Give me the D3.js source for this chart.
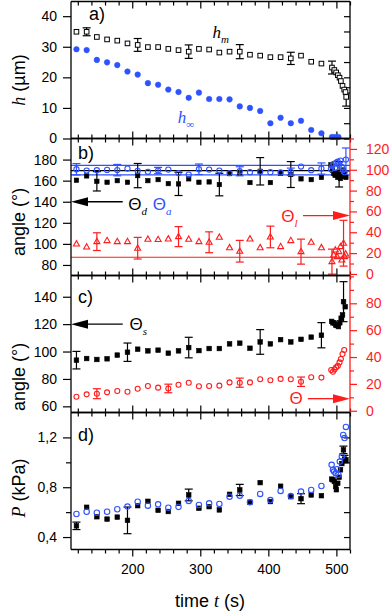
<!DOCTYPE html>
<html>
<head>
<meta charset="utf-8">
<script src="https://cdn.jsdelivr.net/npm/d3@7"></script>
<style>
body { margin: 0; background: #fff; }
svg { display: block; font-family: "Liberation Sans", Arial, sans-serif; }
</style>
</head>
<body>
<svg id="chart" width="392" height="613"></svg>
<script>
// ---- data: [time s, value, error] ----
const hmData = [[118,34.9],[133,34.9,1.3],[148,33.2],[163,32.4],[178,32.0],[193,31.1],[208,30.6,2.1],[223,29.9],[238,29.9],[253,29.3],[268,28.9],[283,28.4,2.2],[298,29.3],[313,29.1],[328,28.1],[343,28.4],[358,28.4,2.3],[373,27.4],[388,27.1],[403,26.6],[418,26.6],[433,26.2,2],[448,27.1],[463,25.1],[478,24.5],
  [493.5,23.2,2.1],[497,22.4],[499.7,21.6],[502.2,20.7],[504.6,19.9],[506.6,18.8],[509,17.2],[511.5,16.0],[513.4,15.2],[514.4,13.6,3]];
const hInfData = [[118,29.2],[133,28.9],[148,25.7],[163,24.9],[178,24.0],[193,21.9],[208,20.9],[223,18.1],[238,17.6],[253,16.0],[268,15.2],[283,13.3],[298,15.0],[313,12.9],[328,12.9],[343,12.8],[358,10.5],[373,10.0],[388,9.0],[403,5.0],[418,6.8],[433,5.0],[448,5.8],[463,2.8],[478,1.7],[493.5,0.5],[498,0.5],[503,0.5]];

const thetaD = [[118,160.4],[133,164.5],[148,159.4,9.2],[163,158.5],[178,160],[193,158.5],[208,164.8,11.5],[223,160],[238,161],[253,157.2],[268,156.9,11],[283,161.7],[298,158.5],[313,158.8],[328,156.3,10.7],[343,166.7],[358,167],[373,158.2],[388,168.9,13],[403,158.2],[418,167],[433,165.8,12.3],[448,161.7],[463,161],[478,163],
  [492,175],[494,170],[496,167],[498,165],[500,168],[502,163],[504,166,12],[506,162],[508,164],[510,170],[512,167],[514,163]];
const thetaA = [[118,170.8,5.4],[133,169.6],[148,169.9],[163,170.2],[178,170,5.4],[193,171.5],[208,169.3],[223,168.4],[238,169.6,3],[253,170.5],[268,167.2],[283,165.8],[298,170.8,5],[313,170.5],[328,169.6],[343,167.2],[358,168.9,4.3],[373,168],[388,168.4],[403,168],[418,167.8],[433,168.4,3.5],[448,173.4],[463,169.9],[478,171.5,5.3],
  [492,171],[494,174],[496,176],[498,172],[500,177],[502,178],[504,175],[506,179],[508,173],[510,170],[512,168],[514,180,11]];
const thetaL = [[118,28.8],[133,25.9],[148,31,8.5],[163,32],[178,31],[193,31],[208,24.7,10.4],[223,33.3],[238,33],[253,33.6],[268,35.8,9.6],[283,33.3],[298,31],[313,30.4,10],[328,35.2],[343,25.2],[358,21.8,10.4],[373,33.6],[388,25.2],[403,35.5,10.4],[418,26.2],[433,32],[448,21.4,12],[463,30.4],[478,25.2],
  [493.5,11.8,12],[496,18.2],[498.5,23],[501,16.6],[503.5,21.4],[506,26.2],[508,13.4],[510.5,29.5,22],[512,16.6],[513.5,19.2]];
const thetaBLines = [165.5, 174.5];   // blue reference lines, left axis
const thetaDLine = [169.5];           // black reference line, left axis
const thetaLLine = [16];              // red reference line, right axis

const thetaS = [[118,93.7,6.4],[133,94.9],[148,94.2],[163,94.7],[178,97.4],[193,99.5,6.7],[208,101.7],[223,100.5],[238,101],[253,98.8],[268,100.5],[283,102.9,7.5],[298,100.7],[313,102.2],[328,102.2],[343,105.6],[358,106.1],[373,102.4],[388,107,9],[403,105.6],[418,108.7],[433,107],[448,108.9],[463,110.5],[478,111.9,9.2],
  [493,122],[495,121],[497,120.8],[499,119.4],[501,119],[503,118.2],[505,121],[507,124.3],[509,126.7],[510.5,136.4,14.6],[513,132.7]];
const theta = [[118,10.4],[133,12.2],[148,12.7,3.7],[163,13.7],[178,14.7],[193,14.2],[208,16.4],[223,18.4],[238,17.2],[253,16.6,3.2],[268,19.4],[283,20.9],[298,18.2],[313,18.4],[328,18.7],[343,21.1],[358,20.9,3.4],[373,21.1],[388,23.4],[403,22.7],[418,23.7],[433,23.4],[448,21.6,3.5],[463,24.9],[478,24.7],
  [492.4,30.3],[494.9,29],[497.2,30.8],[499.7,32.3],[502.2,33.5],[504.6,36],[506.6,38.5],[509,42.3],[511.5,45.2]];

const pBlack = [[118,0.49,0.03],[133,0.639],[148,0.563],[163,0.544],[178,0.560],[193,0.534,0.107],[208,0.652],[223,0.687],[238,0.615],[253,0.605],[268,0.671],[283,0.738,0.047],[298,0.631],[313,0.644],[328,0.618],[343,0.743],[358,0.778,0.045],[373,0.679],[388,0.837],[403,0.685],[418,0.808],[433,0.724],[448,0.708,0.04],[463,0.738],[478,0.732],
  [493,0.865],[495,0.86],[497,0.846],[499,0.806],[500,0.78],[502,0.832],[504,0.88],[506,0.94],[508,0.99],[510.4,1.1,0.03],[512,1.026,0.03],[514,1.02]];
const pBlue = [[118,0.585],[133,0.603],[148,0.595],[163,0.603],[178,0.623],[193,0.645],[208,0.684],[223,0.652],[238,0.663],[253,0.636],[268,0.642],[283,0.69],[298,0.658],[313,0.671],[328,0.666],[343,0.724],[358,0.732],[373,0.679],[388,0.746],[403,0.697],[418,0.77],[433,0.729],[448,0.765],[463,0.778],[478,0.81],
  [493,0.98],[495,0.94],[496.5,0.926],[499,0.913],[501,0.945],[503,0.9],[505,1.006],[508,1.047],[510,1.22],[512,1.195],[514,1.284]];

const xMajor = [200, 300, 400, 500];
const xMinor = [120,140,160,180,220,240,260,280,320,340,360,380,420,440,460,480,520];

const BLUE = "#2f52ff", RED = "#ff1c1c";

// ---- layout ----
const svg = d3.select("#chart");
const left = 71, right = 350;
const tops = [1.5, 138.5, 275.5, 412.5];
const ph = 137;

const x = d3.scaleLinear().domain([110, 520]).range([left, right]);
const yA = d3.scaleLinear().domain([0, 44.8]).range([tops[0] + ph, tops[0]]);
const yB = d3.scaleLinear().domain([70, 200]).range([tops[1] + ph, tops[1]]);
const yBR = d3.scaleLinear().domain([-1.5, 130]).range([tops[1] + ph, tops[1]]);
const yC = d3.scaleLinear().domain([55.5, 155.5]).range([tops[2] + ph, tops[2]]);
const yCR = d3.scaleLinear().domain([-1.3, 100.7]).range([tops[2] + ph, tops[2]]);
const yD = d3.scaleLinear().domain([0.3, 1.4]).range([tops[3] + ph, tops[3]]);

function styleAxis(g, color) {
    g.select(".domain").remove();
    g.selectAll("line").attr("stroke", color).attr("stroke-width", 1.2);
    g.selectAll("text").attr("fill", color).attr("font-size", 14)
        .attr("font-family", "Liberation Sans, Arial, sans-serif");
}

// x ticks on top and bottom of each panel
tops.forEach((t, i) => {
    const last = i === tops.length - 1;
    [[xMajor, 7], [xMinor, 4]].forEach(([vals, len]) => {
        svg.append("g").attr("transform", `translate(0,${t})`)
            .call(d3.axisBottom(x).tickValues(vals).tickSize(len).tickFormat(""))
            .call(g => styleAxis(g, "#000"));
        const bot = svg.append("g").attr("transform", `translate(0,${t + ph})`);
        if (last) {
            bot.call(d3.axisBottom(x).tickValues(vals).tickSize(len).tickPadding(8)
                .tickFormat(len === 7 ? d3.format("d") : ""));
        } else {
            bot.call(d3.axisTop(x).tickValues(vals).tickSize(len).tickFormat(""));
        }
        bot.call(g => styleAxis(g, "#000"));
    });
});

function leftAxis(scale, vals, fmt, minor) {
    svg.append("g").attr("transform", `translate(${left},0)`)
        .call(d3.axisLeft(scale).tickValues(vals).tickSize(8).tickPadding(6).tickFormat(fmt))
        .call(g => styleAxis(g, "#000"));
    if (minor) {
        svg.append("g").attr("transform", `translate(${left},0)`)
            .call(d3.axisLeft(scale).tickValues(minor).tickSize(5).tickFormat(""))
            .call(g => styleAxis(g, "#000"));
    }
}
function rightInner(scale, vals) {
    svg.append("g").attr("transform", `translate(${right},0)`)
        .call(d3.axisLeft(scale).tickValues(vals).tickSize(6).tickFormat(""))
        .call(g => styleAxis(g, "#000"));
}
function rightRed(scale, vals, minor) {
    svg.append("g").attr("transform", `translate(${right},0)`)
        .call(d3.axisRight(scale).tickValues(vals).tickSize(7).tickPadding(9).tickFormat(d3.format("d")))
        .call(g => styleAxis(g, RED));
    svg.append("g").attr("transform", `translate(${right},0)`)
        .call(d3.axisRight(scale).tickValues(minor).tickSize(4).tickFormat(""))
        .call(g => styleAxis(g, RED));
}

const commaFmt = d => d3.format(".1f")(d).replace(".", ",");

leftAxis(yA, [0, 10, 20, 30, 40], d3.format("d"));
rightInner(yA, [0, 5, 10, 15, 20, 25, 30, 35, 40]);
leftAxis(yB, [80, 100, 120, 140, 160, 180], d3.format("d"));
rightRed(yBR, [0, 20, 40, 60, 80, 100, 120], [10, 30, 50, 70, 90, 110, 130]);
leftAxis(yC, [60, 80, 100, 120, 140], d3.format("d"));
rightRed(yCR, [0, 20, 40, 60, 80], [10, 30, 50, 70, 90, 100]);
leftAxis(yD, [0.4, 0.8, 1.2], commaFmt, [0.6, 1.0]);
rightInner(yD, [0.4, 0.6, 0.8, 1.0, 1.2]);

// ---- reference lines (panel b) ----
function hLine(scale, v, color) {
    svg.append("line").attr("x1", left).attr("x2", right)
        .attr("y1", scale(v)).attr("y2", scale(v))
        .attr("stroke", color).attr("stroke-width", 1.2);
}
thetaBLines.forEach(v => hLine(yB, v, BLUE));
thetaDLine.forEach(v => hLine(yB, v, "#000"));
thetaLLine.forEach(v => hLine(yBR, v, RED));

// ---- marks ----
function errorBars(data, ys, color) {
    const g = svg.append("g").attr("stroke", color).attr("stroke-width", 1.2);
    data.filter(d => d[2]).forEach(d => {
        const cx = x(d[0]), y1 = ys(d[1] - d[2]), y2 = ys(d[1] + d[2]);
        g.append("line").attr("x1", cx).attr("x2", cx).attr("y1", y1).attr("y2", y2);
        g.append("line").attr("x1", cx - 4).attr("x2", cx + 4).attr("y1", y1).attr("y2", y1);
        g.append("line").attr("x1", cx - 4).attr("x2", cx + 4).attr("y1", y2).attr("y2", y2);
    });
}
function squares(data, ys, filled, s) {
    svg.append("g").selectAll("rect").data(data).join("rect")
        .attr("x", d => x(d[0]) - s / 2).attr("y", d => ys(d[1]) - s / 2)
        .attr("width", s).attr("height", s)
        .attr("fill", filled ? "#000" : "#fff").attr("stroke", "#000").attr("stroke-width", filled ? 0.6 : 1);
}
function circles(data, ys, color, filled, r) {
    svg.append("g").selectAll("circle").data(data).join("circle")
        .attr("cx", d => x(d[0])).attr("cy", d => ys(d[1])).attr("r", r)
        .attr("fill", filled ? color : "#fff").attr("fill-opacity", filled ? 1 : 0)
        .attr("stroke", color).attr("stroke-width", filled ? 0.5 : 1.1);
}
function triangles(data, ys, color) {
    svg.append("g").selectAll("path").data(data).join("path")
        .attr("d", d => {
            const cx = x(d[0]), cy = ys(d[1]);
            return `M${cx},${cy - 3.3}L${cx + 3},${cy + 2}L${cx - 3},${cy + 2}Z`;
        })
        .attr("fill", "none").attr("stroke", color).attr("stroke-width", 1.1);
}

// panel a
errorBars(hmData, yA, "#000");
squares(hmData, yA, false, 4.6);
circles(hInfData, yA, BLUE, true, 2.8);

// panel b
errorBars(thetaL, yBR, RED);
triangles(thetaL, yBR, RED);
errorBars(thetaD, yB, "#000");
squares(thetaD, yB, true, 4.4);
errorBars(thetaA, yB, BLUE);
circles(thetaA, yB, BLUE, false, 2.6);

// panel c
errorBars(thetaS, yC, "#000");
squares(thetaS, yC, true, 4.6);
errorBars(theta, yCR, RED);
circles(theta, yCR, RED, false, 2.5);

// panel d
errorBars(pBlack, yD, "#000");
squares(pBlack, yD, true, 4.6);
circles(pBlue, yD, BLUE, false, 2.7);

// ---- frames ----
tops.forEach((t, i) => {
    const g = svg.append("g").attr("stroke-width", 1.3).attr("fill", "none");
    g.append("line").attr("x1", left).attr("x2", right).attr("y1", t).attr("y2", t).attr("stroke", "#000");
    g.append("line").attr("x1", left).attr("x2", right).attr("y1", t + ph).attr("y2", t + ph).attr("stroke", "#000");
    g.append("line").attr("x1", left).attr("x2", left).attr("y1", t).attr("y2", t + ph).attr("stroke", "#000");
    g.append("line").attr("x1", right).attr("x2", right).attr("y1", t).attr("y2", t + ph)
        .attr("stroke", (i === 1 || i === 2) ? RED : "#000");
});

// ---- annotations ----
function arrow(x1, x2, y, color) {
    const dir = Math.sign(x2 - x1);
    svg.append("line").attr("x1", x1).attr("x2", x2 - dir * 14).attr("y1", y).attr("y2", y)
        .attr("stroke", color).attr("stroke-width", 1.3);
    svg.append("path")
        .attr("d", `M${x2},${y}L${x2 - dir * 17},${y - 4.5}L${x2 - dir * 17},${y + 4.5}Z`)
        .attr("fill", color);
}
function label(xp, yp, main, sub, color, mainFont, italicMain) {
    const t = svg.append("text").attr("x", xp).attr("y", yp).attr("fill", color);
    t.append("tspan").attr("font-size", 17)
        .attr("font-family", mainFont || "Liberation Sans, Arial, sans-serif")
        .attr("font-style", italicMain ? "italic" : "normal").text(main);
    if (sub) {
        t.append("tspan").attr("font-size", 11).attr("font-style", "italic")
            .attr("font-family", "Liberation Serif, serif").attr("dy", 5).text(sub);
    }
}

// panel letters
[["a)", 89, 20], ["b)", 78, 159], ["c)", 78, 303], ["d)", 78, 441]].forEach(([s, xp, yp]) => {
    svg.append("text").attr("x", xp).attr("y", yp).attr("font-size", 18).text(s);
});

label(x(318), 38, "h", "m", "#000", "Liberation Serif, serif", true);
label(x(267), 123, "h", "\u221e", BLUE, "Liberation Serif, serif", true);

arrow(x(186), left, yB(140), "#000");
label(x(194), 210, "\u0398", "d", "#000");
label(x(230), 210, "\u0398", "a", BLUE);
arrow(x(451), right, yBR(56), RED);
label(x(419), 222, "\u0398", "l", RED);

arrow(x(186), left, yC(120), "#000");
label(x(196), 330, "\u0398", "s", "#000");
arrow(x(458), right, yCR(9), RED);
label(x(431), 404, "\u0398", null, RED);

// axis titles
function yTitle(cy, parts) {
    const t = svg.append("text").attr("transform", `translate(25,${cy}) rotate(-90)`)
        .attr("text-anchor", "middle").attr("font-size", 18);
    parts.forEach(([s, it]) => {
        t.append("tspan").attr("font-style", it ? "italic" : "normal")
            .attr("font-family", it ? "Liberation Serif, serif" : "Liberation Sans, Arial, sans-serif").text(s);
    });
}
yTitle(80, [["h", true], [" (\u00b5m)", false]]);
yTitle(222, [["angle (\u00b0)", false]]);
yTitle(377, [["angle (\u00b0)", false]]);
yTitle(488, [["P", true], [" (kPa)", false]]);

const xt = svg.append("text").attr("x", 210).attr("y", 607).attr("text-anchor", "middle").attr("font-size", 18);
xt.append("tspan").text("time ");
xt.append("tspan").attr("font-style", "italic").attr("font-family", "Liberation Serif, serif").text("t");
xt.append("tspan").text(" (s)");
</script>
</body>
</html>
